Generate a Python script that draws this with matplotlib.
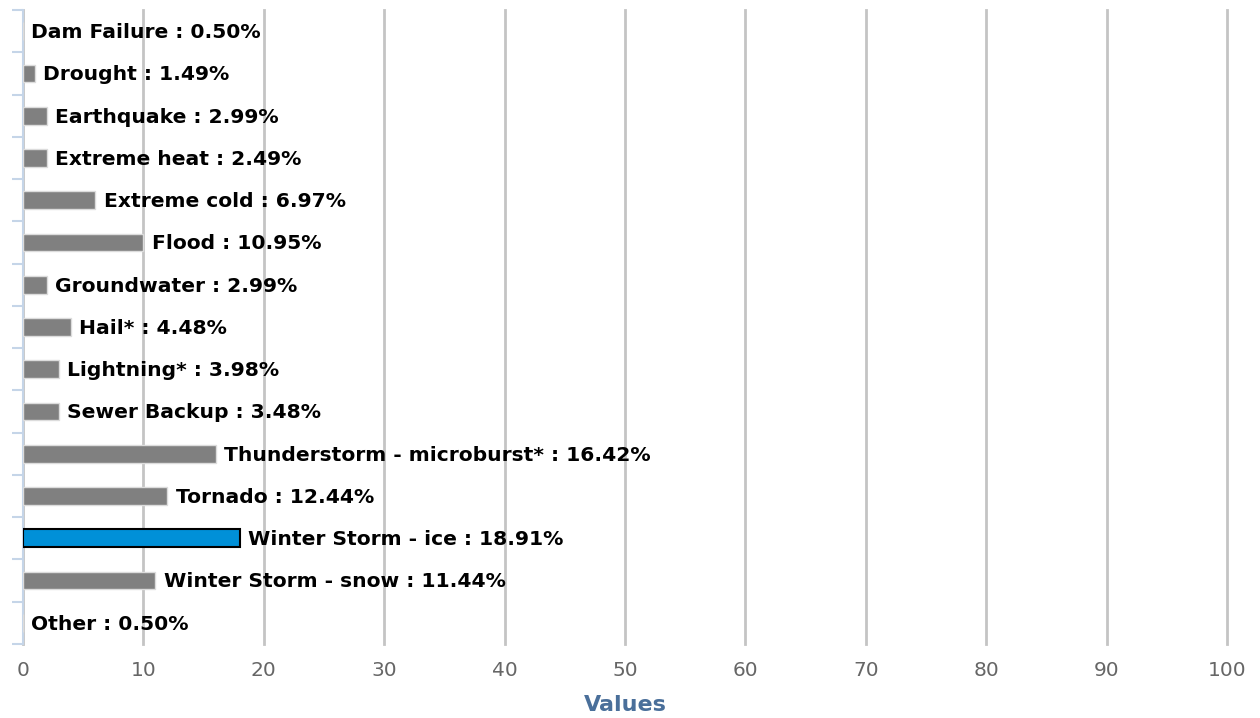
import matplotlib.pyplot as plt

categories = ['Dam Failure', 'Drought', 'Earthquake', 'Extreme heat', 'Extreme cold',
              'Flood', 'Groundwater', 'Hail*', 'Lightning*', 'Sewer Backup',
              'Thunderstorm - microburst*', 'Tornado', 'Winter Storm - ice',
              'Winter Storm - snow', 'Other']
percents = [0.50, 1.49, 2.99, 2.49, 6.97, 10.95, 2.99, 4.48, 3.98, 3.48,
            16.42, 12.44, 18.91, 11.44, 0.50]
# bar lengths as drawn in the picture (whole numbers)
values = [0, 1, 2, 2, 6, 10, 2, 4, 3, 3, 16, 12, 18, 11, 0]
highlight = 'Winter Storm - ice'
xticks = [0, 10, 20, 30, 40, 50, 60, 70, 80, 90, 100]

fig = plt.figure(figsize=(12.6, 7.18), dpi=100)
ax = fig.add_axes([23 / 1260, 74 / 718, 1204 / 1260, 634 / 718])

pos = list(range(len(categories)))
for i, (cat, v) in enumerate(zip(categories, values)):
    if cat == highlight:
        ax.barh(i, v, height=0.42, color='#0090d8', edgecolor='black', linewidth=1.5, zorder=3)
    else:
        ax.barh(i, v, height=0.42, color='#808080', edgecolor='#dcdcdc', linewidth=1, zorder=3)
    ax.annotate(f'{cat} : {percents[i]:.2f}%', xy=(v, i), xytext=(6, -1),
                textcoords='offset points', va='center', ha='left',
                fontsize=14.6, fontweight='bold', color='black', zorder=4)

ax.set_xlim(0, 100)
ax.set_ylim(len(categories) - 0.5, -0.5)
ax.set_xticks(xticks)
ax.set_yticks([p - 0.5 for p in pos] + [len(categories) - 0.5])
ax.set_yticklabels([])
ax.grid(axis='x', color='#c4c4c4', linewidth=2, zorder=0)
for gl in ax.get_xgridlines():
    gl.set_clip_on(False)
ax.tick_params(axis='x', length=0, labelsize=14.5, labelcolor='#666666', pad=12)
ax.tick_params(axis='y', length=8, width=1.5, color='#c5d5e8')
for s in ['top', 'right', 'bottom']:
    ax.spines[s].set_visible(False)
ax.spines['left'].set_color('#c5d5e8')
ax.spines['left'].set_linewidth(1.5)
ax.set_xlabel('Values', fontsize=16, fontweight='bold', color='#4a6f9a', labelpad=11)

fig.savefig('out.png', dpi=100)
